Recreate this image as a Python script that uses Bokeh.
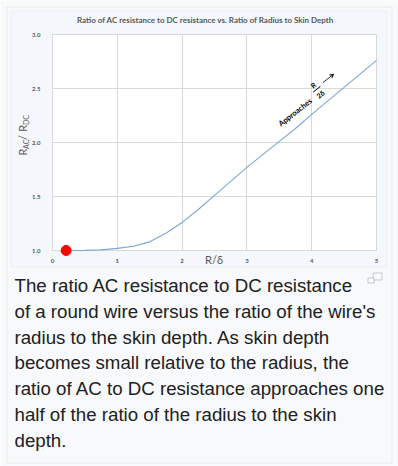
import math
from bokeh.plotting import figure
from bokeh.models import Label, BoxAnnotation, Arrow, VeeHead, NormalHead, LinearAxis, FixedTicker
from bokeh.embed import file_html
from bokeh.resources import INLINE

# ---- data ----
ratio_r_delta = [0.21, 0.5, 0.75, 1.0, 1.25, 1.5, 1.75, 2.0, 2.25, 2.5, 2.75,
                 3.0, 3.25, 3.5, 3.75, 4.0, 4.25, 4.5, 4.75, 5.0]
rac_rdc = [1.000, 1.001, 1.006, 1.02, 1.04, 1.08, 1.16, 1.26, 1.38, 1.51, 1.64,
           1.77, 1.89, 2.01, 2.13, 2.26, 2.385, 2.51, 2.635, 2.76]
marker_x = [0.21]
marker_y = [1.0]
x_ticks = [0, 1, 2, 3, 4, 5]
x_tick_labels = ["0", "1", "2", "3", "4", "5"]
y_ticks = [1.0, 1.5, 2.0, 2.5, 3.0]
y_tick_labels = ["1.0", "1.5", "2.0", "2.5", "3.0"]
title_text = "Ratio of AC resistance to DC resistance vs. Ratio of Radius to Skin Depth"
x_label = "R/\u03b4"
caption_lines = [
    "The ratio AC resistance to DC resistance",
    "of a round wire versus the ratio of the wire's",
    "radius to the skin depth. As skin depth",
    "becomes small relative to the radius, the",
    "ratio of AC to DC resistance approaches one",
    "half of the ratio of the radius to the skin",
    "depth.",
]

W, H = 398, 466
# plot area in page pixels
PL, PR, PT, PB = 52.0, 376.0, 34.0, 250.0
X0, X1 = x_ticks[0], x_ticks[-1]
Y0, Y1 = y_ticks[0], y_ticks[-1]
kx = (PR - PL) / (X1 - X0)
ky = (PB - PT) / (Y1 - Y0)
x_range = (X0 - PL / kx, X1 + (W - PR) / kx)
y_range = (Y0 - (H - PB) / ky, Y1 + PT / ky)

FONT = "Lato"
GRAY = "#595959"
GRID = "#d9d9d9"

p = figure(width=W, height=H, x_range=x_range, y_range=y_range,
           x_axis_location=None, y_axis_location=None, min_border=0,
           output_backend="svg", toolbar_location=None)
p.grid.visible = False
p.background_fill_color = "#f8f9fa"
p.border_fill_color = "#f8f9fa"
p.outline_line_color = None


def S(px, py):
    return px, H - py


def box(l, t, r, b, fill, line, level="image", lw=1):
    sl, st = S(l, t)
    sr, sb = S(r, b)
    p.add_layout(BoxAnnotation(left=sl, right=sr, top=st, bottom=sb,
                               left_units="screen", right_units="screen",
                               top_units="screen", bottom_units="screen",
                               fill_color=fill, fill_alpha=1 if fill else 0,
                               line_color=line, line_width=lw, level=level))


# outer thumbnail frame and chart image box
box(6.5, 6.5, 391.5, 462.5, None, "#c8ccd1")
box(10.5, 10.5, 386.5, 266.5, "#f4f7fb", "#d6dce4")
# plot area (white) in data coordinates
p.add_layout(BoxAnnotation(left=X0, right=X1, bottom=Y0, top=Y1, fill_color="white",
                           fill_alpha=1, line_color=None, level="image"))

# axes placed at the plot-area edges; their inward ticks act as grid lines
xaxis = LinearAxis(fixed_location=Y0, ticker=FixedTicker(ticks=x_ticks),
                   major_label_overrides={t: l for t, l in zip(x_ticks, x_tick_labels)})
yaxis = LinearAxis(fixed_location=X0, ticker=FixedTicker(ticks=y_ticks),
                   major_label_overrides={t: l for t, l in zip(y_ticks, y_tick_labels)})
for ax in (xaxis, yaxis):
    ax.axis_line_color = None
    ax.minor_tick_line_color = None
    ax.major_tick_line_color = GRID
    ax.major_tick_line_width = 1
    ax.major_tick_out = 0
    ax.major_label_text_font = FONT
    ax.major_label_text_font_size = "6px"
    ax.major_label_text_font_style = "bold"
    ax.major_label_text_color = GRAY
    ax.level = "underlay"
xaxis.major_tick_in = int(PB - PT)
yaxis.major_tick_in = int(PR - PL)
xaxis.major_label_standoff = 8
yaxis.major_label_standoff = 12
p.add_layout(xaxis, "below")
p.add_layout(yaxis, "left")


def label(px, py, text, size, color=GRAY, style="normal", align="center",
          baseline="middle", angle=0.0, font=FONT):
    sx, sy = S(px, py)
    p.add_layout(Label(x=sx, y=sy, x_units="screen", y_units="screen", text=text,
                       text_font=font, text_font_size=size, text_color=color,
                       text_font_style=style, text_align=align,
                       text_baseline=baseline, angle=angle))


# title
label(205, 19.5, title_text, "8px", style="bold")
# x label
label(213.5, 258.5, x_label, "11px")
# y label: R_AC / R_DC rotated
rot = math.pi / 2
label(22, 155, "R", "11px", align="left", angle=rot)
label(25.5, 148.4, "AC", "7px", align="left", angle=rot)
label(22, 139.6, " / ", "11px", align="left", angle=rot)
label(22, 131.2, "R", "11px", align="left", angle=rot)
label(25.5, 124.6, "DC", "7px", align="left", angle=rot)

# data
p.line(ratio_r_delta, rac_rdc, line_color="#7ba6d6", line_width=1.1)
p.scatter(marker_x, marker_y, size=10, color="#ff0000")

# rotated annotation "Approaches R/2δ ->"
th = math.radians(38)
cx, cy = 294.5, 111.5


def uv(u, v):
    return (cx + u * math.cos(th) - v * math.sin(th),
            cy - u * math.sin(th) - v * math.cos(th))


px, py = uv(0, 0)
label(px, py, "Approaches", "7.6px", color="black", style="bold", angle=th)
px, py = uv(31, 10.0)
label(px, py, "R", "7px", color="black", style="bold", angle=th)
px, py = uv(31, -1.5)
label(px, py, "2\u03b4", "7px", color="black", style="bold", angle=th)
a0 = S(*uv(26.5, 4.5))
a1 = S(*uv(35.5, 4.5))
p.add_layout(Arrow(x_start=a0[0], y_start=a0[1], x_end=a1[0], y_end=a1[1],
                   start_units="screen", end_units="screen", start=None,
                   end=NormalHead(size=0.5, line_color="black", fill_color="black", line_width=0.5),
                   line_color="black", line_width=1))
a0 = S(*uv(40, 6.0))
a1 = S(*uv(54, 6.0))
p.add_layout(Arrow(x_start=a0[0], y_start=a0[1], x_end=a1[0], y_end=a1[1],
                   start_units="screen", end_units="screen",
                   end=VeeHead(size=4, line_color="black", fill_color="black", line_width=0.5),
                   line_color="black", line_width=0.8))

# caption
for i, line in enumerate(caption_lines):
    label(14, 285 + i * 25.8, line, "18.7px", color="#202122", align="left",
          font="Liberation Sans")

# enlarge icon
box(372.5, 272.5, 381.5, 279.5, "#f8f9fa", "#54595d", level="annotation")
box(367.5, 277.5, 373.5, 282.5, "#f8f9fa", "#54595d", level="annotation")

open("out.html", "w").write(file_html(p, INLINE))
